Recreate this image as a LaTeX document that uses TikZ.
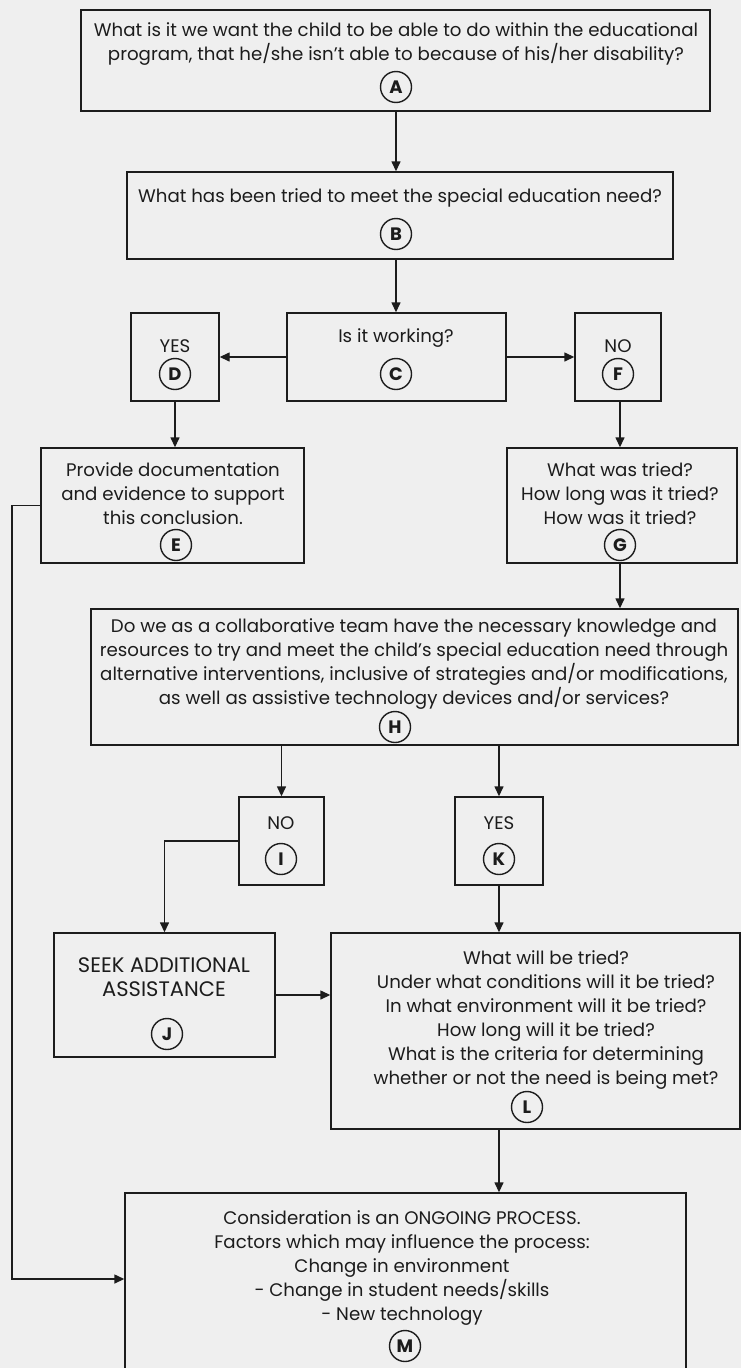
\documentclass[tikz,border=0pt]{standalone}
\usepackage{fontspec}
\setmainfont{Poppins}
\usetikzlibrary{arrows.meta}
\definecolor{bg}{RGB}{239,239,239}
\definecolor{ink}{RGB}{28,28,28}
\begin{document}
\begin{tikzpicture}[x=1pt,y=-1pt,
  box/.style={draw=ink, line width=1.4pt, inner sep=0pt},
  txt/.style={align=center, text=ink, font=\fontsize{18.2}{24}\selectfont, inner sep=0pt},
  bigtxt/.style={txt, font=\fontsize{21}{24}\selectfont},
  lbl/.style={circle, draw=ink, line width=1.4pt, minimum size=31pt, inner sep=0pt, text=ink, font=\fontsize{18}{18}\selectfont\bfseries},
  arr/.style={draw=ink, line width=1.4pt, -{Triangle[length=10pt,width=9pt]}}]
\fill[bg] (0,0) rectangle (741,1368);
\useasboundingbox (0,0) rectangle (741,1368);
\clip (0,0) rectangle (741,1368);
% boxes
\node[box, minimum width=629pt, minimum height=101pt] (A) at (395.5,60.5) {};
\node[box, minimum width=546pt, minimum height=87pt] (B) at (400,215.5) {};
\node[box, minimum width=219pt, minimum height=88pt] (C) at (396.5,357) {};
\node[box, minimum width=88pt, minimum height=88pt] (D) at (175,357) {};
\node[box, minimum width=86pt, minimum height=88pt] (F) at (618,357) {};
\node[box, minimum width=263pt, minimum height=115pt] (E) at (172.5,505.5) {};
\node[box, minimum width=230pt, minimum height=115pt] (G) at (622,505.5) {};
\node[box, minimum width=647pt, minimum height=136pt] (H) at (414.5,677) {};
\node[box, minimum width=85pt, minimum height=88pt] (I) at (281.5,841) {};
\node[box, minimum width=88pt, minimum height=88pt] (K) at (499,841) {};
\node[box, minimum width=221pt, minimum height=124pt] (J) at (164.5,995) {};
\node[box, minimum width=409pt, minimum height=196pt] (L) at (535.5,1031) {};
\node[box, minimum width=561pt, minimum height=185pt] (M) at (405.5,1285.5) {};
% texts
\node[txt] (At) at (396,44) {What is it we want the child to be able to do within the educational\\program, that he/she isn't able to because of his/her disability?};
\node[lbl] (Al) at (396,87) {A};
\node[txt] (Bt) at (400,198) {What has been tried to meet the special education need?};
\node[lbl] (Bl) at (396,234) {B};
\node[txt] (Ct) at (396,338) {Is it working?};
\node[lbl] (Cl) at (396,374) {C};
\node[txt] (Dt) at (175,346) {YES};
\node[lbl] (Dl) at (175,374) {D};
\node[txt] (Ft) at (618,346) {NO};
\node[lbl] (Fl) at (618,374) {F};
\node[txt] (Et) at (173,494) {Provide documentation\\and evidence to support\\this conclusion.};
\node[lbl] (El) at (176,545) {E};
\node[txt] (Gt) at (620,494) {What was tried?\\How long was it tried?\\How was it tried?};
\node[lbl] (Gl) at (620,545) {G};
\node[txt] (Ht) at (414,664) {Do we as a collaborative team have the necessary knowledge and\\resources to try and meet the child's special education need through\\alternative interventions, inclusive of strategies and/or modifications,\\as well as assistive technology devices and/or services?};
\node[lbl] (Hl) at (395,727) {H};
\node[txt] (It) at (281,823) {NO};
\node[lbl] (Il) at (281,859) {I};
\node[txt] (Kt) at (499,823) {YES};
\node[lbl] (Kl) at (499,859) {K};
\node[bigtxt] (Jt) at (164,977) {SEEK ADDITIONAL\\ASSISTANCE};
\node[lbl] (Jl) at (167,1034) {J};
\node[txt] (Lt) at (546,1020) {What will be tried?\\Under what conditions will it be tried?\\In what environment will it be tried?\\How long will it be tried?\\What is the criteria for determining\\whether or not the need is being met?};
\node[lbl] (Ll) at (527,1107) {L};
\node[txt] (Mt) at (402,1268.5) {Consideration is an ONGOING PROCESS.\\Factors which may influence the process:\\Change in environment\\- Change in student needs/skills\\- New technology};
\node[lbl] (Ml) at (405,1346) {M};
% connectors
\coordinate (bend) at (12,1279);
\draw[arr] (Al.center |- A.south) -- (Al.center |- B.north);
\draw[arr] (Bl.center |- B.south) -- (Bl.center |- C.north);
\draw[arr] (C.west) -- (D.east);
\draw[arr] (C.east) -- (F.west);
\draw[arr] (D.south) -- (D.south |- E.north);
\draw[arr] (Gl.center |- F.south) -- (Gl.center |- G.north);
\draw[arr] (Gl.center |- G.south) -- (Gl.center |- H.north);
\draw[arr] (I.north |- H.south) -- (I.north);
\draw[arr] (K.north |- H.south) -- (K.north);
\draw[arr] (I.west) -| (J.north);
\draw[arr] (J.east) -- (J.east -| L.west);
\draw[arr] (K.south) -- (K.south |- L.north);
\draw[arr] (K.south |- L.south) -- (K.south |- M.north);
\draw[arr] (E.west) -| (bend) -- (bend -| M.west);
\end{tikzpicture}
\end{document}
